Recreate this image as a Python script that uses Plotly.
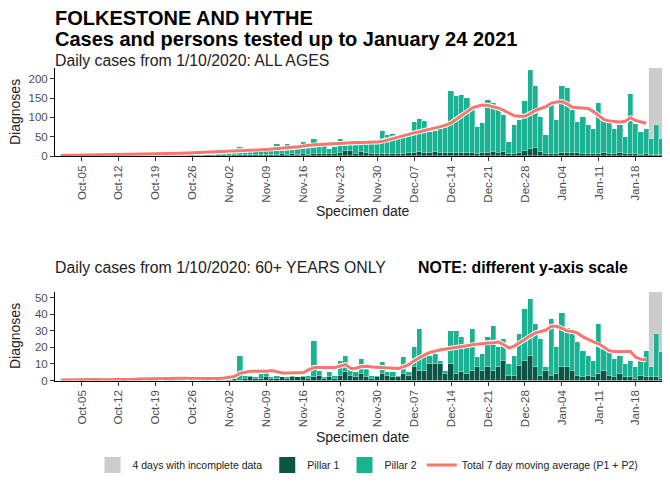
import pandas as pd
import plotly.graph_objects as go

# specimen dates, 1 Oct 2020 -> 24 Jan 2021
dates = pd.date_range("2020-10-01", "2021-01-24", freq="D")
tick_dates = pd.date_range("2020-10-05", "2021-01-18", freq="7D")

# ALL AGES: daily total (P1 + P2) and the Pillar 1 part
all_total = [
    1, 2, 0, 3, 1, 2, 1, 2, 3, 1, 4, 2, 3, 5, 4, 3, 6, 5, 4, 7, 6, 5, 8, 9, 7, 10, 8, 9, 11, 10, 12,
    10, 12, 14, 23, 15, 14, 16, 17, 18, 20, 30, 22, 30, 22, 25, 36, 30, 43, 25, 28, 18, 24, 45, 40, 34, 38, 35, 32, 30, 36,
    64, 55, 56, 50, 48, 52, 88, 95, 90, 62, 66, 70, 75, 168, 155, 158, 150, 125, 75, 86, 145, 138, 118, 106, 36, 80, 93, 142, 222, 182, 101,
    54, 140, 93, 181, 175, 119, 88, 101, 80, 71, 138, 93, 88, 71, 80, 50, 160, 84, 62, 71, 43, 80, 43, 2,
]
all_pillar1 = [
    0, 0, 0, 1, 0, 0, 0, 0, 1, 0, 0, 1, 0, 0, 1, 0, 1, 0, 1, 0, 1, 1, 0, 1, 1, 2, 1, 1, 2, 1, 2,
    2, 1, 2, 3, 2, 3, 2, 3, 2, 3, 3, 4, 3, 4, 3, 4, 3, 4, 5, 4, 5, 4, 8, 14, 12, 6, 10, 8, 5, 4,
    5, 6, 4, 5, 6, 7, 8, 10, 9, 9, 10, 8, 7, 9, 8, 8, 9, 8, 6, 9, 8, 10, 9, 10, 4, 6, 9, 14, 18, 20, 10,
    6, 5, 6, 8, 9, 9, 7, 6, 5, 4, 6, 7, 5, 6, 8, 5, 4, 5, 3, 4, 3, 2, 2, 0,
]
# 7 day moving average, stops before the incomplete days
all_avg = [
    1.0, 1.2, 1.4, 1.6, 1.9, 2.1, 2.2, 2.4, 2.5, 2.7, 2.9, 3.0, 3.2, 3.5, 3.9, 4.2, 4.5, 4.9, 5.2, 5.5,
    5.9, 6.3, 6.7, 7.1, 7.5, 8.0, 8.4, 8.8, 9.3, 9.8, 10.4,
    11, 12, 13, 14, 14.5, 15, 15.5, 16, 17, 18, 19, 20, 21, 22, 24, 26, 28, 29, 30, 31,
    31, 32, 33, 34, 34, 35, 35, 35, 36, 36,
    38, 42, 46, 50, 53, 57, 60, 63, 66, 69, 72, 76, 80, 86, 95, 104, 114, 124, 129, 132,
    131, 128, 124, 118, 110, 104, 103, 103, 110, 118, 123,
    128, 137, 140, 141, 135, 126, 125, 125, 123, 115, 104, 94, 91, 89, 88, 90, 99, 92, 88, 85,
]

# 60+ YEARS ONLY
old_total = [
    0, 1, 0, 0, 1, 0, 0, 1, 0, 1, 0, 0, 1, 0, 1, 1, 0, 2, 1, 0, 1, 2, 1, 1, 0, 1, 0, 1, 1, 0, 3,
    1, 2, 3, 15, 3, 3, 2, 4, 7, 2, 3, 2, 2, 3, 2, 3, 3, 24, 6, 2, 5, 3, 12, 15, 7, 5, 13, 9, 3, 3,
    11, 5, 5, 3, 14, 5, 20, 31, 15, 15, 16, 12, 6, 30, 30, 26, 20, 31, 14, 16, 26, 33, 20, 25, 10, 15, 28, 43, 49, 34, 25,
    8, 37, 20, 41, 32, 28, 23, 18, 15, 12, 34, 20, 18, 13, 15, 10, 12, 8, 12, 18, 8, 28, 17, 0,
]
old_pillar1 = [
    0, 0, 0, 0, 0, 0, 0, 0, 0, 0, 0, 0, 0, 0, 0, 0, 0, 1, 0, 0, 0, 1, 0, 0, 0, 0, 0, 0, 0, 0, 0,
    0, 1, 1, 0, 1, 2, 1, 1, 2, 1, 1, 2, 1, 2, 2, 2, 1, 2, 3, 1, 2, 1, 3, 5, 3, 2, 4, 2, 1, 2,
    4, 3, 2, 2, 4, 3, 8, 6, 6, 10, 10, 10, 4, 10, 4, 5, 4, 6, 8, 6, 8, 6, 8, 12, 3, 3, 9, 12, 15, 8, 3,
    6, 3, 4, 8, 8, 6, 3, 2, 3, 2, 4, 6, 3, 2, 4, 2, 2, 1, 3, 2, 2, 2, 1, 0,
]
old_avg = [
    0.3, 0.4, 0.4, 0.4, 0.6, 0.6, 0.6, 0.6, 0.4, 0.4, 0.4, 0.4, 0.6, 0.6, 0.7, 0.9, 1.0, 1.1, 1.3, 1.3,
    1.3, 1.4, 1.4, 1.4, 1.3, 1.3, 1.2, 1.0, 1.0, 0.9, 1.2,
    1.5, 1.8, 2.5, 4.4, 5.2, 5.6, 5.6, 5.4, 5.6, 6.0, 5.2, 4.6, 4.6, 4.6, 4.7, 4.8, 6.5, 7.8, 7.8, 7.8,
    7.6, 7.8, 8.8, 9.6, 7.2, 7.4, 8.4, 8.6, 8.2, 8.0,
    7.8, 7.4, 7.0, 7.2, 8.4, 9.6, 12, 14, 15.5, 17, 18, 18.6, 19, 19.4, 19.8, 20.4, 21, 21.6, 22, 22.6,
    22.6, 22.8, 23.2, 21.6, 19.6, 20.8, 23, 25, 27, 28.8, 29.6,
    30.5, 32.8, 32.8, 31.6, 30, 29.6, 28.6, 26.4, 24.8, 23.4, 22.2, 20, 18, 17.6, 17.6, 18, 17.6, 14, 12.8, 12.6,
]

incomplete_start = pd.Timestamp("2021-01-21")
incomplete_days = 4

P1_COLOR = "#0c5444"
P2_COLOR = "#19b393"
AVG_COLOR = "#f8766d"
GREY = "#cccccc"
FONT = "Liberation Sans, Arial, sans-serif"

# the page body keeps its 8px margin; size the figure so nothing overflows
W, H, OFF = 662, 467, 8


def px(x):
    return (x - OFF) / W


def py(y):
    return 1 - (y - OFF) / H


half_day = pd.Timedelta(hours=12)
x_range = [pd.Timestamp("2020-09-29 22:00"), pd.Timestamp("2021-01-24 12:00")]

fig = go.Figure()

# legend-only keys (bigger squares than the bar legend symbol)
legend_keys = [
    ("4 days with incomplete data", GREY, "grey"),
    ("Pillar 1", P1_COLOR, "p1"),
    ("Pillar 2", P2_COLOR, "p2"),
]
for name, color, group in legend_keys:
    fig.add_trace(go.Scatter(x=[dates[0]], y=[None], mode="markers", name=name,
                             marker=dict(symbol="square", size=16, color=color),
                             legendgroup=group, xaxis="x", yaxis="y", hoverinfo="skip"))

panels = [
    ("x", "y", all_total, all_pillar1, all_avg, True),
    ("x2", "y2", old_total, old_pillar1, old_avg, False),
]
for xa, ya, total, p1, avg, show in panels:
    p2 = [t - a for t, a in zip(total, p1)]
    fig.add_trace(go.Bar(x=dates, y=p1, name="Pillar 1", marker_color=P1_COLOR,
                         marker_line=dict(color="white", width=0.3),
                         xaxis=xa, yaxis=ya, showlegend=False, legendgroup="p1"))
    fig.add_trace(go.Bar(x=dates, y=p2, name="Pillar 2", marker_color=P2_COLOR,
                         marker_line=dict(color="white", width=0.3),
                         xaxis=xa, yaxis=ya, showlegend=False, legendgroup="p2"))
    fig.add_trace(go.Scatter(x=dates[:len(avg)], y=avg, mode="lines",
                             line=dict(color="white", width=5),
                             xaxis=xa, yaxis=ya, showlegend=False, hoverinfo="skip"))
    fig.add_trace(go.Scatter(x=dates[:len(avg)], y=avg, mode="lines",
                             name="Total 7 day moving average (P1 + P2)",
                             line=dict(color=AVG_COLOR, width=3),
                             xaxis=xa, yaxis=ya, showlegend=show, legendgroup="avg"))
    fig.add_shape(type="rect", xref=xa, yref=ya + " domain",
                  x0=incomplete_start - half_day,
                  x1=incomplete_start + pd.Timedelta(days=incomplete_days) - half_day,
                  y0=0, y1=1, fillcolor=GREY, line_width=0, layer="below")

xcommon = dict(
    type="date", range=x_range, domain=[px(55), 1.0], automargin=False,
    tickvals=tick_dates, tickformat="%b-%d", tickangle=-90,
    ticks="outside", ticklen=4, tickcolor="#333333",
    showline=True, linecolor="black", linewidth=1,
    showgrid=False, zeroline=False,
    tickfont=dict(size=11.5, color="#4d4d4d", family=FONT),
)
ycommon = dict(
    automargin=False,
    ticks="outside", ticklen=4, tickcolor="#333333",
    showline=True, linecolor="black", linewidth=1,
    showgrid=False, zeroline=False,
    tickfont=dict(size=11.5, color="#4d4d4d", family=FONT),
)

fig.update_layout(
    width=W, height=H,
    margin=dict(l=0, r=0, t=0, b=0, autoexpand=False),
    paper_bgcolor="white", plot_bgcolor="white",
    font=dict(family=FONT, color="#222222"),
    barmode="stack", bargap=0,
    xaxis=dict(anchor="y", **xcommon),
    yaxis=dict(anchor="x", domain=[py(156), py(68)], range=[0, 228],
               tickvals=[0, 50, 100, 150, 200], **ycommon),
    xaxis2=dict(anchor="y2", **xcommon),
    yaxis2=dict(anchor="x2", domain=[py(380.5), py(292)], range=[0, 53.5],
                tickvals=[0, 10, 20, 30, 40, 50], **ycommon),
    legend=dict(orientation="h", x=px(368), xanchor="center", y=py(465), yanchor="middle",
                font=dict(size=10.5, color="#222222"), traceorder="normal",
                itemsizing="trace"),
)

texts = [
    (53, 18.5, "<b>FOLKESTONE AND HYTHE</b>", 20, "left", 0, "black"),
    (53, 39, "<b>Cases and persons tested up to January 24 2021</b>", 20, "left", 0, "black"),
    (53, 61, "Daily cases from 1/10/2020: ALL AGES", 15.8, "left", 0, "#222222"),
    (53, 267, "Daily cases from 1/10/2020: 60+ YEARS ONLY", 15.8, "left", 0, "#222222"),
    (416, 267, "<b>NOTE: different y-axis scale</b>", 15.8, "left", 0, "black"),
    (362.5, 211, "Specimen date", 14, "center", 0, "#222222"),
    (362.5, 437, "Specimen date", 14, "center", 0, "#222222"),
    (15, 112, "Diagnoses", 14, "center", -90, "#222222"),
    (15, 336, "Diagnoses", 14, "center", -90, "#222222"),
]
for x, y, t, size, anchor, angle, color in texts:
    fig.add_annotation(x=px(x), y=py(y), xref="paper", yref="paper", text=t, showarrow=False,
                       xanchor=anchor, yanchor="middle", textangle=angle,
                       font=dict(size=size, color=color))

fig.write_html("out.html")
